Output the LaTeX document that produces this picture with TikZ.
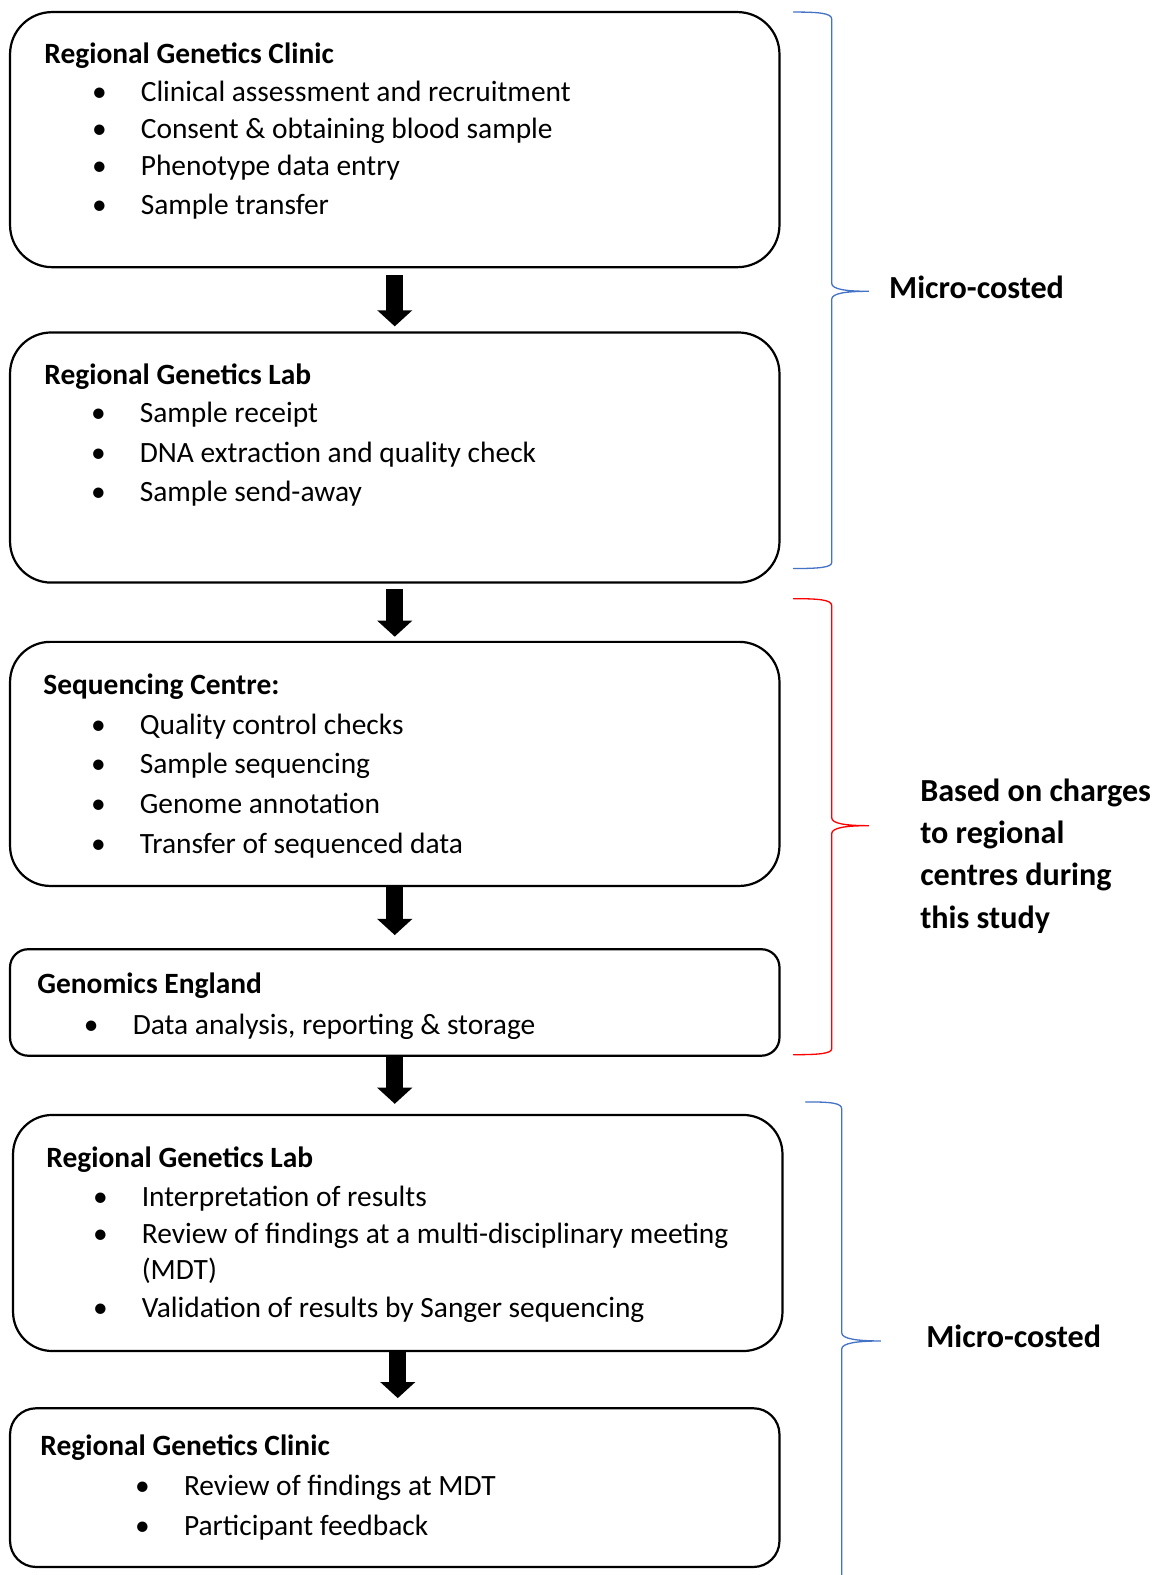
\documentclass[tikz,border=0pt]{standalone}
\usepackage{fontspec}
\setmainfont{Carlito}
\usepackage{tikz}
\usetikzlibrary{arrows.meta,positioning}
\definecolor{myblue}{RGB}{68,114,196}
\colorlet{myred}{red}
\def\boxwidth{766}
\def\bulletsep{34}
\tikzset{
  box/.style={draw,line width=2.2pt,rounded corners=#1,minimum width=\boxwidth pt,inner sep=0},
  head/.style={anchor=base west,inner sep=0,font=\fontsize{29.3}{34}\selectfont\bfseries},
  item/.style={anchor=base west,inner sep=0,font=\fontsize{29.3}{34}\selectfont},
  note/.style={anchor=base west,inner sep=0,font=\fontsize{32}{38}\selectfont\bfseries},
  flow/.style={-{Triangle[length=16pt,width=34pt]},line width=17pt},
  brace/.style={line width=1.3pt,line cap=round}
}
\newcommand\bul[1]{\llap{\textbullet\hskip\bulletsep pt}#1}

\begin{document}
\begin{tikzpicture}[x=1pt,y=-1pt]
	\useasboundingbox (0,0) rectangle (1152,1568);

	\node[box=42, minimum height=254pt] (clin1) at (393,139) {};
	\node[box=41, minimum height=249pt] (lab1) at (393,455.5) {};
	\node[box=40, minimum height=243pt] (seq) at (393,760.5) {};
	\node[box=18, minimum height=106pt] (ge) at (393,998) {};
	\node[box=39, minimum height=235pt] (lab2) at (396,1227.5) {};
	\node[box=26, minimum height=158pt] (clin2) at (393,1481) {};

	% box texts
	\node[head] (clin1-h) at (44,63) {Regional Genetics Clinic};
	\foreach \t/\y [count=\i] in {Clinical assessment and recruitment/101,
			Consent \& obtaining blood sample/138, Phenotype data entry/175,
			Sample transfer/214}
	\node[item] (clin1-\i) at (140,\y) {\bul{\t}};

	\node[head] (lab1-h) at (44,383) {Regional Genetics Lab};
	\foreach \t/\y [count=\i] in {Sample receipt/421,
			DNA extraction and quality check/460, Sample send-away/499}
	\node[item] (lab1-\i) at (139,\y) {\bul{\t}};

	\node[head] (seq-h) at (43,691) {Sequencing Centre:};
	\foreach \t/\y [count=\i] in {Quality control checks/731, Sample sequencing/770,
			Genome annotation/810, Transfer of sequenced data/850}
	\node[item] (seq-\i) at (139,\y) {\bul{\t}};

	\node[head] (ge-h) at (37,989) {Genomics England};
	\node[item] (ge-1) at (132,1030) {\bul{Data analysis, reporting \& storage}};

	\node[head] (lab2-h) at (46,1162) {Regional Genetics Lab};
	\foreach \t/\y [count=\i] in {Interpretation of results/1201,
			Review of findings at a multi-disciplinary meeting/1238,
			Validation of results by Sanger sequencing/1312}
	\node[item] (lab2-\i) at (141,\y) {\bul{\t}};
	\node[item] (lab2-mdt) at (141,1274) {(MDT)};

	\node[head] (clin2-h) at (40,1449) {Regional Genetics Clinic};
	\foreach \t/\y [count=\i] in {Review of findings at MDT/1489, Participant feedback/1529}
	\node[item] (clin2-\i) at (183,\y) {\bul{\t}};

	% arrows
	\foreach \a/\b/\s/\e in {clin1/lab1/7/5, lab1/seq/5/4, seq/ge/0/13, ge/lab2/0/10, lab2/clin2/0/9}
	\draw[flow, shorten <=\s pt, shorten >=\e pt] (\a.south) -- (\a.south |- \b.north);

	% braces
	\draw[brace, myblue] (790,12) .. controls (815,12) and (828,13) .. (828,19) -- (828,282)
		.. controls (828,288) and (842,290) .. (865,290) .. controls (842,290) and (828,292) .. (828,298)
		-- (828,560) .. controls (828,565) and (815,566) .. (790,566);
	\draw[brace, myred] (790,596) .. controls (815,596) and (828,597) .. (828,603) -- (828,814)
		.. controls (828,820) and (842,822) .. (865,822) .. controls (842,822) and (828,824) .. (828,830)
		-- (828,1044) .. controls (828,1049) and (815,1050) .. (790,1050);
	\draw[brace, myblue] (802,1097) .. controls (827,1097) and (838,1098) .. (838,1104) -- (838,1327)
		.. controls (838,1333) and (854,1335) .. (877,1335) .. controls (854,1335) and (838,1337) .. (838,1343)
		-- (838,1568);

	\node[note] (cost1) at (885,297) {Micro-costed};
	\foreach \t/\y [count=\i] in {Based on charges/798, to regional/840, centres during/882, this study/924}
	\node[note] (charge\i) at (916,\y) {\t};
	\node[note] (cost2) at (922,1341) {Micro-costed};
\end{tikzpicture}
\end{document}
